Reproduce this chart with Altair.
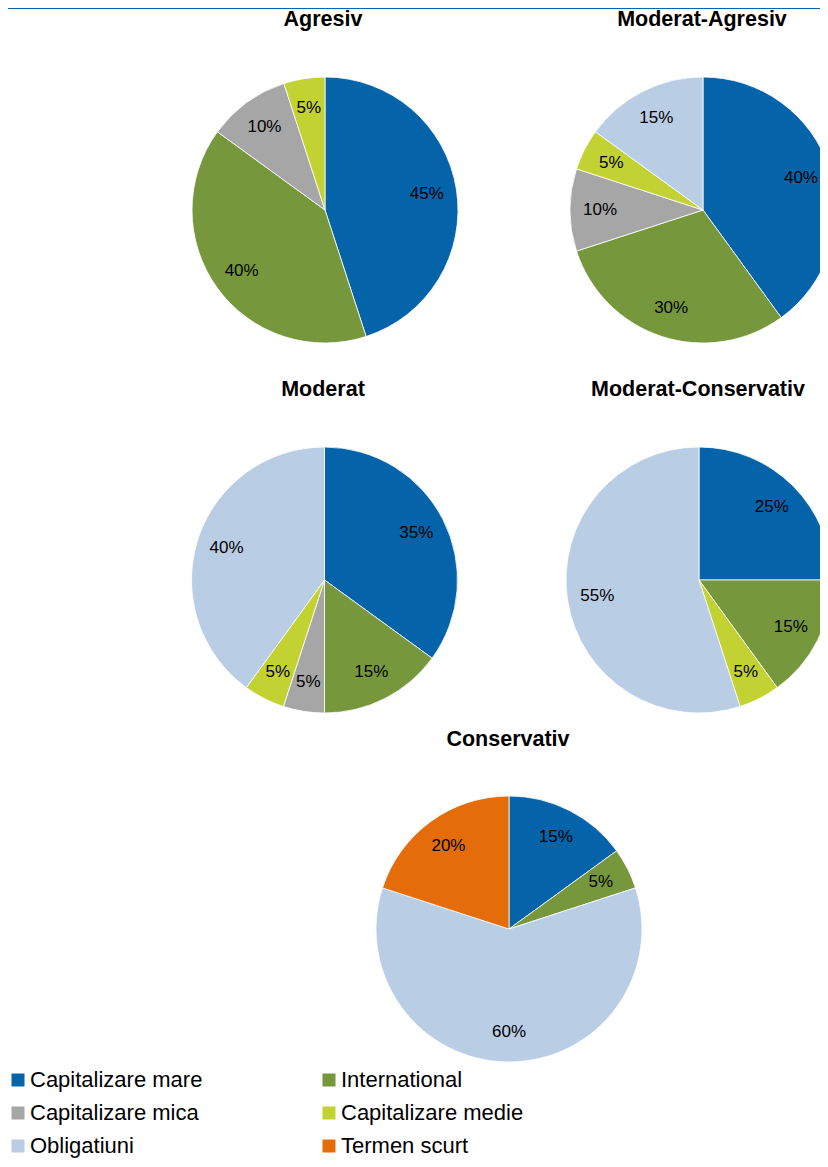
import altair as alt
import pandas as pd

profiles = ["Agresiv", "Moderat-Agresiv", "Moderat", "Moderat-Conservativ", "Conservativ"]
categories = ["Capitalizare mare", "International", "Capitalizare mica",
              "Capitalizare medie", "Obligatiuni", "Termen scurt"]
colors = ["#0563A9", "#77973D", "#A6A6A6", "#C3D233", "#B9CDE5", "#E46C0A"]

agresiv = [45, 40, 10, 5, 0, 0]
moderat_agresiv = [40, 30, 10, 5, 15, 0]
moderat = [35, 15, 5, 5, 40, 0]
moderat_conservativ = [25, 15, 0, 5, 55, 0]
conservativ = [15, 5, 0, 0, 60, 20]

series = [agresiv, moderat_agresiv, moderat, moderat_conservativ, conservativ]

rows = []
for p, vals in zip(profiles, series):
    for i, (c, v) in enumerate(zip(categories, vals)):
        if v > 0:
            rows.append({"profile": p, "category": c, "value": v, "order": i,
                         "label": f"{v}%"})
df = pd.DataFrame(rows)

# legend is filled column by column: reorder so it reads row by row
legend_order = [0, 2, 4, 1, 3, 5]
leg_domain = [categories[i] for i in legend_order]
leg_range = [colors[i] for i in legend_order]

# page-pixel layout (chart coords = page - 8)
centers = {
    "Agresiv": (317, 202),
    "Moderat-Agresiv": (695, 202),
    "Moderat": (316.5, 572),
    "Moderat-Conservativ": (691, 572),
    "Conservativ": (501, 921),
}
title_pos = {
    "Agresiv": (315, 12),
    "Moderat-Agresiv": (694, 12),
    "Moderat": (315, 382),
    "Moderat-Conservativ": (690, 382),
    "Conservativ": (500, 732),
}
R = 133
LABEL_R = 103
FONT = "Liberation Sans"

color_enc = alt.Color(
    "category:N",
    scale=alt.Scale(domain=leg_domain, range=leg_range),
    legend=alt.Legend(
        title=None, orient="none", legendX=-1, legendY=1061, columns=2,
        columnPadding=115, rowPadding=11, symbolType="square", symbolSize=169,
        symbolStrokeWidth=0, symbolOpacity=1, labelFontSize=22, labelFont=FONT,
        labelColor="black", labelOffset=1, labelLimit=400, padding=0,
    ),
)

layers = []
base_all = alt.Chart(df)
for p in profiles:
    cx, cy = centers[p]
    base = base_all.transform_filter(alt.datum.profile == p)
    arc = base.mark_arc(outerRadius=R, stroke="white", strokeWidth=0.8).encode(
        theta=alt.Theta("value:Q", stack=True),
        order=alt.Order("order:Q"),
        color=color_enc,
        x=alt.value(cx), y=alt.value(cy),
    )
    txt = base.mark_text(radius=LABEL_R, font=FONT, fontSize=17, color="black").encode(
        theta=alt.Theta("value:Q", stack=True),
        order=alt.Order("order:Q"),
        text="label:N",
        x=alt.value(cx), y=alt.value(cy),
    )
    tx, ty = title_pos[p]
    title = alt.Chart(pd.DataFrame({"t": [p]})).mark_text(
        font=FONT, fontSize=21.5, fontWeight="bold", color="black", baseline="middle"
    ).encode(text="t:N", x=alt.value(tx), y=alt.value(ty))
    layers += [arc, txt, title]

topline = alt.Chart(pd.DataFrame({"a": [0]})).mark_rule(color="#0563A9", strokeWidth=2).encode(
    x=alt.value(0), x2=alt.value(812), y=alt.value(0)
)

chart = alt.layer(topline, *layers).resolve_scale(theta="independent").properties(
    width=812, height=1151, autosize=alt.AutoSizeParams(type="none"), padding=0
).configure_view(strokeWidth=0)

chart.save("out.html", embed_options={"renderer": "svg", "actions": False})
